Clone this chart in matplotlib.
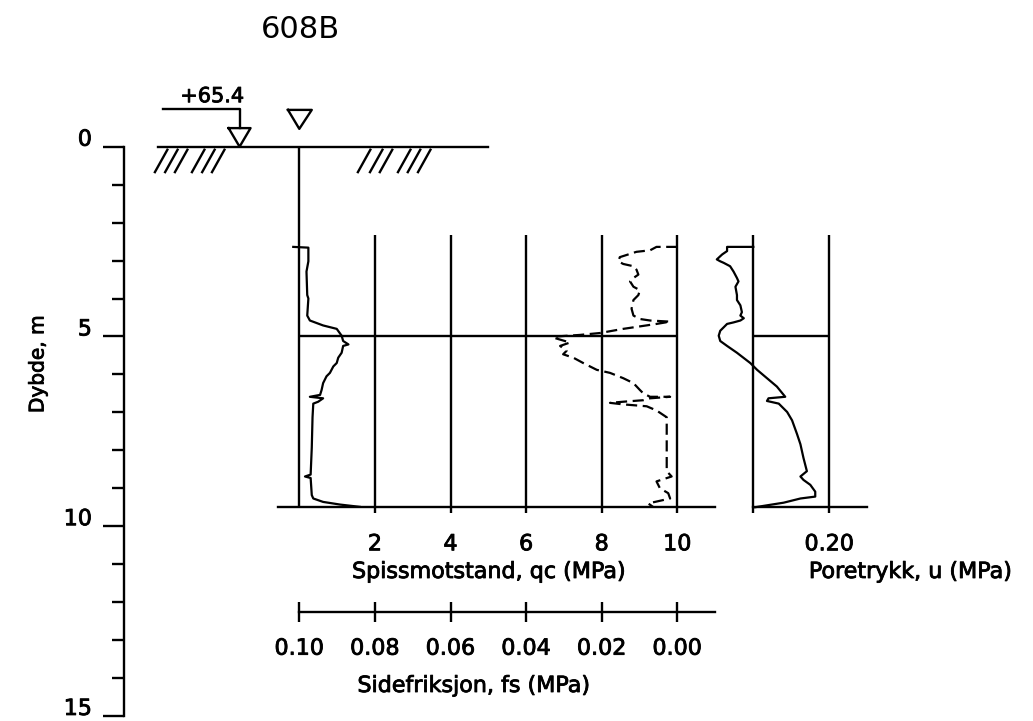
import matplotlib
matplotlib.use('Agg')
import matplotlib.pyplot as plt
import matplotlib.transforms as mtransforms
import matplotlib.patheffects as pe
from matplotlib.text import Text

plt.rcParams['font.family'] = ['DejaVu Sans']

# ---------------- data ----------------
title = '608B'
ground_level_label = '+65.4'

qc_depth = [2.64, 2.66, 3.02, 3.29, 3.91, 4.00, 4.45, 4.58, 4.71, 4.80, 4.98, 5.12,
            5.21, 5.25, 5.43, 5.56, 5.70, 5.79, 5.96, 6.05, 6.23, 6.41, 6.54, 6.59,
            6.63, 6.72, 6.77, 7.13, 7.93, 8.64, 8.69, 8.73, 9.18, 9.27, 9.36, 9.43, 9.49]
qc_value = [-0.16, 0.24, 0.24, 0.19, 0.21, 0.24, 0.21, 0.28, 0.63, 0.99, 1.12, 1.16,
            1.30, 1.16, 1.12, 1.03, 0.99, 0.90, 0.81, 0.72, 0.63, 0.59, 0.55, 0.28,
            0.63, 0.50, 0.37, 0.35, 0.33, 0.30, 0.15, 0.30, 0.33, 0.37, 0.63, 1.08, 1.60]

fs_depth = [2.64, 2.64, 2.73, 2.77, 2.91, 3.02, 3.09, 3.15, 3.24, 3.37, 3.46, 3.55,
            3.69, 3.78, 3.91, 4.04, 4.27, 4.45, 4.54, 4.58, 4.61, 4.67, 4.80, 4.91,
            4.96, 5.00, 5.03, 5.16, 5.25, 5.38, 5.47, 5.56, 5.70, 5.88, 5.96, 6.10,
            6.23, 6.41, 6.50, 6.59, 6.59, 6.63, 6.68, 6.72, 6.75, 6.79, 6.84, 6.95,
            7.13, 7.48, 8.20, 8.55, 8.69, 8.82, 9.00, 9.13, 9.27, 9.40, 9.50]
fs_value = [0.0000, 0.0055, 0.0072, 0.0108, 0.0152, 0.0156, 0.0143, 0.0116, 0.0108, 0.0103, 0.0116, 0.0125,
            0.0116, 0.0099, 0.0103, 0.0116, 0.0121, 0.0116, 0.0099, 0.0072, 0.0019, 0.0055, 0.0143, 0.0205,
            0.0258, 0.0319, 0.0328, 0.0284, 0.0310, 0.0293, 0.0302, 0.0275, 0.0249, 0.0213, 0.0178, 0.0143,
            0.0116, 0.0099, 0.0090, 0.0072, 0.0019, 0.0072, 0.0090, 0.0143, 0.0178, 0.0143, 0.0081, 0.0055,
            0.0028, 0.0028, 0.0028, 0.0028, 0.0015, 0.0055, 0.0046, 0.0024, 0.0019, 0.0077, 0.0063]

u_depth = [2.64, 2.64, 2.75, 2.84, 2.97, 3.02, 3.06, 3.15, 3.29, 3.46, 3.55, 3.69,
           3.91, 4.04, 4.18, 4.36, 4.45, 4.52, 4.58, 4.63, 4.67, 4.76, 4.85, 4.98,
           5.12, 5.25, 5.43, 5.70, 5.88, 6.10, 6.32, 6.59, 6.63, 6.70, 6.77, 6.99,
           7.21, 7.57, 7.84, 8.20, 8.55, 8.69, 8.78, 8.91, 9.09, 9.22, 9.27, 9.38,
           9.45, 9.50]
u_value = [0.000, -0.069, -0.069, -0.082, -0.096, -0.087, -0.078, -0.061, -0.052, -0.043, -0.039, -0.047,
           -0.043, -0.043, -0.034, -0.030, -0.034, -0.025, -0.034, -0.052, -0.069, -0.078, -0.087, -0.091,
           -0.087, -0.069, -0.043, -0.008, 0.010, 0.036, 0.062, 0.084, 0.040, 0.036, 0.067, 0.089,
           0.102, 0.115, 0.124, 0.132, 0.141, 0.124, 0.132, 0.150, 0.163, 0.163, 0.124, 0.080,
           0.036, 0.005]

qc_ticks = [2, 4, 6, 8, 10]
fs_ticks = [0.10, 0.08, 0.06, 0.04, 0.02, 0.00]
u_ticks = [0.0, 0.20]
u_ticklabels = ['', '0.20']
depth_major = [0, 5, 10, 15]
depth_minor = list(range(0, 16))

# -------------- layout helpers --------------
W, H = 1033, 721
fig = plt.figure(figsize=(W / 100, H / 100), dpi=100)


def px_rect(left, top, right, bottom):
    return [left / W, 1 - bottom / H, (right - left) / W, (bottom - top) / H]


LW = 1.7
CLW = 1.6
FS = 16
END_DEPTH = 9.5
GRID_TOP = 2.33
Z0 = 146.7          # pixel row of depth 0
PXM = 37.95         # pixels per metre
QC0 = 299.3         # pixel column of qc = 0
PXQ = 37.8          # pixels per MPa (qc)
U0 = 753.3
PXU = 380.0

bottom_px = Z0 + END_DEPTH * PXM

# ---------------- depth axis ----------------
ax_d = fig.add_axes(px_rect(124, Z0, 134, Z0 + 15 * PXM))
ax_d.set_ylim(15, 0)
for s in ['top', 'right', 'bottom']:
    ax_d.spines[s].set_visible(False)
ax_d.spines['left'].set_linewidth(LW)
ax_d.set_xticks([])
ax_d.set_yticks(depth_major)
ax_d.set_yticks(depth_minor, minor=True)
ax_d.tick_params(axis='y', which='major', direction='out', length=15, width=LW,
                 pad=8, labelsize=FS)
ax_d.tick_params(axis='y', which='minor', direction='out', length=8.6, width=LW)
ax_d.patch.set_visible(False)
off = mtransforms.ScaledTranslation(0, 9 / 100, fig.dpi_scale_trans)
for lbl in ax_d.get_yticklabels():
    lbl.set_transform(lbl.get_transform() + off)
fig.text(38 / W, 1 - 364 / H, 'Dybde, m', rotation=90, ha='center', va='center',
         fontsize=14.5)

# ---------------- qc panel ----------------
left_qc, right_qc = 278, 715
ax_qc = fig.add_axes(px_rect(left_qc, Z0, right_qc, bottom_px))
ax_qc.set_xlim((left_qc - QC0) / PXQ, (right_qc - QC0) / PXQ)
ax_qc.set_ylim(END_DEPTH, 0)
for s in ['top', 'right', 'left']:
    ax_qc.spines[s].set_visible(False)
ax_qc.spines['bottom'].set_linewidth(LW)
ax_qc.patch.set_visible(False)
ax_qc.set_yticks([])
ax_qc.set_xticks(qc_ticks)
ax_qc.set_xticklabels([str(t) for t in qc_ticks])
ax_qc.tick_params(axis='x', direction='out', length=4.5, width=LW, pad=15,
                  labelsize=FS)
ax_qc.vlines(qc_ticks, GRID_TOP, END_DEPTH, color='k', lw=LW)
ax_qc.vlines([0], 0, END_DEPTH, color='k', lw=LW)
ax_qc.hlines([5], 0, 10, color='k', lw=LW)
ax_qc.plot(qc_value, qc_depth, color='k', lw=CLW, solid_joinstyle='round')
ax_qc.set_xlabel('Spissmotstand, qc (MPa)', fontsize=FS)
ax_qc.xaxis.set_label_coords(
    (489 - left_qc) / (right_qc - left_qc), 1 - 562 / H,
    transform=mtransforms.blended_transform_factory(ax_qc.transAxes, fig.transFigure))

# fs curve on a twin axis (reversed scale)
ax_fsp = ax_qc.twiny()
ax_fsp.set_xlim(0.10 - (left_qc - QC0) / (PXQ * 100), 0.10 - (right_qc - QC0) / (PXQ * 100))
ax_fsp.axis('off')
ax_fsp.plot(fs_value, fs_depth, color='k', lw=CLW, dashes=(5, 2.5))

# ground surface and symbols (in qc-panel coordinates)
kw = dict(color='k', lw=LW, clip_on=False)
ax_qc.plot([-3.75, 4.98], [0, 0], **kw)
# elevation marker
ax_qc.plot([-3.61, -1.58, -1.58], [-0.99, -0.99, -0.49], **kw)
ax_qc.plot([-1.87, -1.29, -1.58, -1.87], [-0.49, -0.49, 0.0, -0.49], **kw)
ax_qc.text(-2.3, -1.33, ground_level_label, ha='center', va='center', fontsize=15)
# water level triangle
ax_qc.plot([-0.30, 0.33, 0.0, -0.30], [-0.97, -0.97, -0.47, -0.97], **kw)
# hatching
hatch_left = [-3.82, -3.55, -3.29, -2.84, -2.57, -2.31]
hatch_right = [1.55, 1.87, 2.13, 2.61, 2.87, 3.14]
for xb in hatch_left + hatch_right:
    ax_qc.plot([xb, xb + 0.33], [0.67, 0.08], **kw)

# ---------------- u panel ----------------
right_u = 867
ax_u = fig.add_axes(px_rect(U0, Z0, right_u, bottom_px))
ax_u.set_xlim(0, (right_u - U0) / PXU)
ax_u.set_ylim(END_DEPTH, 0)
for s in ['top', 'right', 'left']:
    ax_u.spines[s].set_visible(False)
ax_u.spines['bottom'].set_linewidth(LW)
ax_u.patch.set_visible(False)
ax_u.set_yticks([])
ax_u.set_xticks(u_ticks)
ax_u.set_xticklabels(u_ticklabels)
ax_u.tick_params(axis='x', direction='out', length=4.5, width=LW, pad=15,
                 labelsize=FS)
ax_u.vlines(u_ticks, GRID_TOP, END_DEPTH, color='k', lw=LW, clip_on=False)
ax_u.hlines([5], 0, 0.2, color='k', lw=LW, clip_on=False)
ax_u.plot(u_value, u_depth, color='k', lw=CLW, clip_on=False)
ax_u.set_xlabel('Poretrykk, u (MPa)', fontsize=FS)
ax_u.xaxis.set_label_coords(
    (910.5 - U0) / (right_u - U0), 1 - 562 / H,
    transform=mtransforms.blended_transform_factory(ax_u.transAxes, fig.transFigure))

# ---------------- fs scale ----------------
ax_fs = fig.add_axes(px_rect(QC0, 611, 715, 612))
ax_fs.set_xlim(0.10, 0.10 - (715 - QC0) / (PXQ * 100))
for s in ['top', 'right', 'left']:
    ax_fs.spines[s].set_visible(False)
ax_fs.spines['bottom'].set_linewidth(LW)
ax_fs.patch.set_visible(False)
ax_fs.set_yticks([])
ax_fs.set_xticks(fs_ticks)
ax_fs.set_xticklabels(['%.2f' % t for t in fs_ticks])
ax_fs.tick_params(axis='x', direction='inout', length=14.4, width=LW, pad=12,
                  labelsize=FS)
ax_fs.set_xlabel('Sidefriksjon, fs (MPa)', fontsize=FS)
ax_fs.xaxis.set_label_coords(
    (474 - QC0) / (715 - QC0), 1 - 676 / H,
    transform=mtransforms.blended_transform_factory(ax_fs.transAxes, fig.transFigure))

# heavier text strokes, like the scanned drawing
for t in fig.findobj(Text):
    t.set_path_effects([pe.withStroke(linewidth=0.6, foreground='k')])

# ---------------- title (regular weight) ----------------
fig.text(300 / W, 1 - 29 / H, title, ha='center', va='center', fontsize=22)

fig.savefig('out.png', dpi=100)
